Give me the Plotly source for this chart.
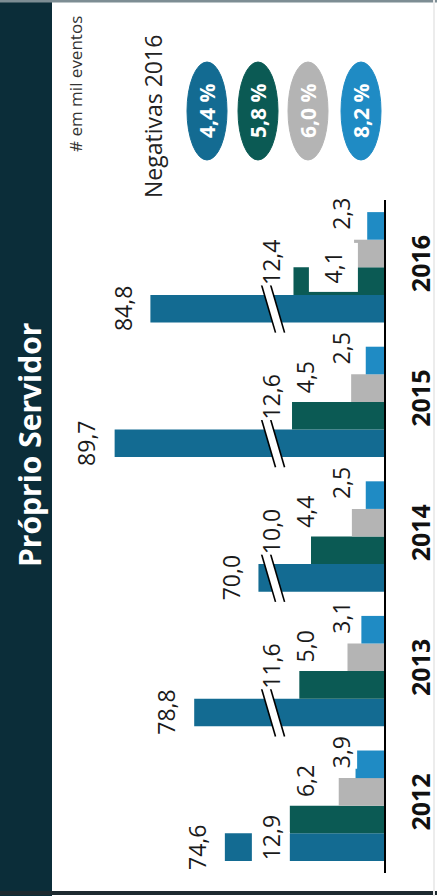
import plotly.graph_objects as go

# ---- data (mil eventos) ----
years = ["2012", "2013", "2014", "2015", "2016"]
total_events = [74.6, 78.8, 70.0, 89.7, 84.8]
series_b = [12.9, 11.6, 10.0, 12.6, 12.4]
series_c = [6.2, 5.0, 4.4, 4.5, 4.1]
series_d = [3.9, 3.1, 2.5, 2.5, 2.3]
negativas_2016 = [4.4, 5.8, 6.0, 8.2]

# ---- style ----
W, H = 437, 896
FONT = "Open Sans"
COLORS = ["#136b92", "#0b5a54", "#b4b4b4", "#1f8bc4"]
TITLE_BAND = "#0b2d39"
BREAK_OFFSET = 52.8          # value removed from the broken (first) series
BREAK_AT = 15.2              # where the // marks sit on the value axis
BARGAP = 0.18
N_SERIES = 4
BAR_W = (1 - BARGAP) / N_SERIES


def fmt(v):
    return f"{v:.1f}".replace(".", ",")


def px_x(p):
    return p / W


def px_y(p):
    return 1 - p / H


def bar_center(i, s):
    return i - (1 - BARGAP) / 2 + (s + 0.5) * BAR_W


ypos = list(range(len(years)))
shown_total = [v - BREAK_OFFSET for v in total_events]
series_values = [total_events, series_b, series_c, series_d]
series_lengths = [shown_total, series_b, series_c, series_d]

fig = go.Figure()
for s, vals in enumerate(series_lengths):
    fig.add_trace(go.Bar(
        y=ypos, x=vals, orientation="h",
        marker=dict(color=COLORS[s], line=dict(width=0)),
        hoverinfo="skip", showlegend=False,
    ))

shapes = []
# title band and frame
shapes.append(dict(type="rect", xref="paper", yref="paper", x0=0, x1=px_x(52),
                   y0=0, y1=1, fillcolor=TITLE_BAND, line=dict(width=0), layer="below"))
shapes.append(dict(type="line", xref="paper", yref="paper", x0=0, x1=1,
                   y0=px_y(1), y1=px_y(1), line=dict(color="#7d8d94", width=3)))
shapes.append(dict(type="line", xref="paper", yref="paper", x0=0, x1=1,
                   y0=px_y(893), y1=px_y(893), line=dict(color="#1d2a30", width=4)))
shapes.append(dict(type="line", xref="paper", yref="paper", x0=px_x(434), x1=px_x(434),
                   y0=0, y1=1, line=dict(color="#ececec", width=2)))

# axis break on the first series
g, sx, hy = 0.62, 0.96, 0.178
for i in ypos:
    yc = bar_center(i, 0)
    if i == 0:
        shapes.append(dict(type="rect", xref="x", yref="y", x0=12.9, x1=18.1,
                           y0=yc - BAR_W / 2 - 0.01, y1=yc + BAR_W / 2 + 0.01,
                           fillcolor="white", line=dict(width=0)))
        continue
    path = (f"M {BREAK_AT + g + sx},{yc + hy} L {BREAK_AT - g + sx},{yc + hy} "
            f"L {BREAK_AT - g - sx},{yc - hy} L {BREAK_AT + g - sx},{yc - hy} Z")
    shapes.append(dict(type="path", xref="x", yref="y", path=path,
                       fillcolor="white", line=dict(width=0)))
    for d in (g, -g):
        shapes.append(dict(type="line", xref="x", yref="y",
                           x0=BREAK_AT + d + sx, y0=yc + hy,
                           x1=BREAK_AT + d - sx, y1=yc - hy,
                           line=dict(color="black", width=1.6)))

# legend ellipses
ell_cx = [207, 258, 308, 361]
ell_cy = 111
for s, cx in enumerate(ell_cx):
    shapes.append(dict(type="circle", xref="paper", yref="paper",
                       x0=px_x(cx - 20), x1=px_x(cx + 20),
                       y0=px_y(ell_cy + 49), y1=px_y(ell_cy - 49),
                       fillcolor=COLORS[s], line=dict(color=COLORS[s], width=1)))


def paper_text(cx, cy, text, size, color):
    return dict(xref="paper", yref="paper", x=px_x(cx), y=px_y(cy),
                xanchor="center", yanchor="middle", text=text, textangle=-90,
                showarrow=False, font=dict(family=FONT, size=size, color=color))


annotations = [
    paper_text(29, 445, "<b>Próprio Servidor</b>", 30, "white"),
    paper_text(75, 84, "# em mil eventos", 17, "#333333"),
    paper_text(153, 117, "Negativas 2016", 23, "#222222"),
]
for s, cx in enumerate(ell_cx):
    annotations.append(paper_text(cx, ell_cy, f"<b>{fmt(negativas_2016[s])} %</b>",
                                  21, "white"))

# value labels
label_column = {1: 15.5, 2: 10.8, 3: 5.9}      # value-axis position of the labels
label_dy = {0: 0, 1: -19, 2: -11, 3: -12}       # pixel nudge, downward positive
special = {(0, 1): dict(dy=18),
           (4, 2): dict(dy=14, x=7.0, pad=8)}
for s in range(N_SERIES):
    for i in ypos:
        v = series_values[s][i]
        yc = bar_center(i, s)
        opts = special.get((i, s), {})
        dy = opts.get("dy", label_dy[s])
        ann = dict(xref="x", yref="y", y=yc, yshift=-dy, text=fmt(v), textangle=-90,
                   showarrow=False, yanchor="middle",
                   font=dict(family=FONT, size=23, color="#1a1a1a"),
                   bgcolor="white", borderpad=opts.get("pad", 0))
        if s == 0:
            ann.update(x=series_lengths[0][i], xanchor="right", xshift=-11)
        else:
            ann.update(x=opts.get("x", label_column[s]), xanchor="center")
        annotations.append(ann)

fig.update_layout(
    width=W, height=H,
    margin=dict(l=0, r=0, t=0, b=0),
    paper_bgcolor="white", plot_bgcolor="white",
    barmode="group", bargap=BARGAP, bargroupgap=0,
    shapes=shapes, annotations=annotations,
    xaxis=dict(domain=[px_x(60), px_x(384)], range=[(384 - 60) / 7.3, 0],
               showticklabels=False, showgrid=False, zeroline=False, showline=False,
               fixedrange=True),
    yaxis=dict(domain=[px_y(873), px_y(200)], range=[-0.5, 4.5], side="right",
               tickmode="array", tickvals=ypos, ticktext=years, tickangle=-90,
               ticks="", ticklabelstandoff=14,
               tickfont=dict(family=FONT, size=25, color="#111111", weight="bold"),
               showline=True, linecolor="black", linewidth=2,
               showgrid=False, zeroline=False, fixedrange=True),
)

fig.write_html("out.html", config={"displayModeBar": False})
